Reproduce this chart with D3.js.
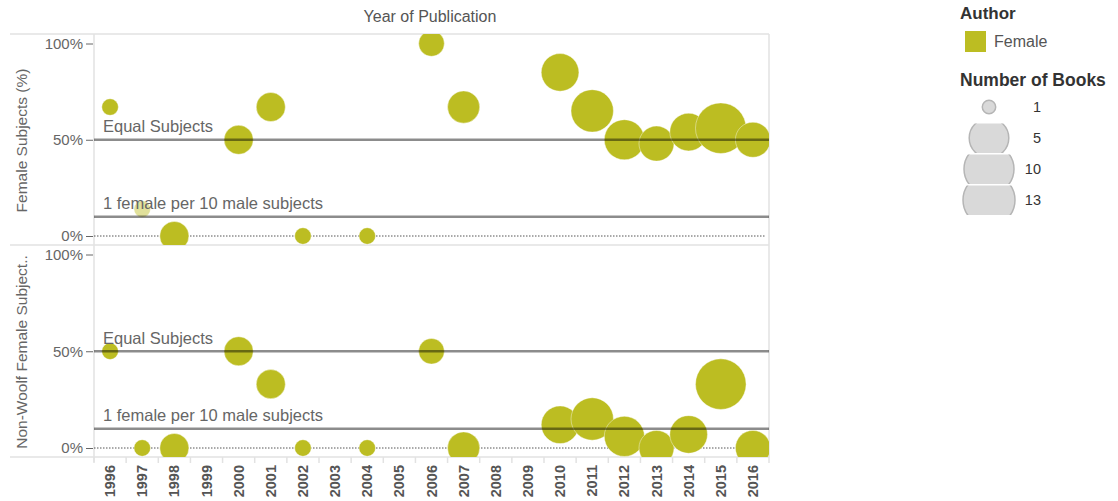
<!DOCTYPE html>
<html>
<head>
<meta charset="utf-8">
<script src="https://cdn.jsdelivr.net/npm/d3@7"></script>
<style>
  body { margin: 0; background: #fff; }
  text { font-family: "Liberation Sans", Arial, sans-serif; }
</style>
</head>
<body>
<svg id="chart" width="1118" height="501"></svg>
<script>
const width = 1118, height = 501;

// data
const years = [1996, 1997, 1998, 1999, 2000, 2001, 2002, 2003, 2004, 2005, 2006,
               2007, 2008, 2009, 2010, 2011, 2012, 2013, 2014, 2015, 2016];
const pubYears = [1996, 1997, 1998, 2000, 2001, 2002, 2004, 2006, 2007, 2010, 2011, 2012, 2013, 2014, 2015, 2016];
const femalePct = [67, 14, 0, 50, 67, 0, 0, 100, 67, 85, 65, 50, 48, 54, 56, 50];
const nonWoolfPct = [50, 0, 0, 50, 33, 0, 0, 50, 0, 12, 15, 6, 0, 7, 33, 0];
const books = [1, 1, 4, 4, 4, 1, 1, 3, 5, 7, 9, 8, 6, 7, 13, 6];
// the 1997 point sits under the label box, looks faded
const faded = [false, true, false, false, false, false, false, false, false, false, false, false, false, false, false, false];

const refValues = [50, 10];
const refLabels = ["Equal Subjects", "1 female per 10 male subjects"];
const yTicks = [0, 50, 100];
const panelTitles = ["Female Subjects (%)", "Non-Woolf Female Subject.."];
const legendBooks = [1, 5, 10, 13];
const legendRadius = [6.7, 19.8, 25, 26];

const olive = "#bcbd22";
const grid = "#e2e2e2";

const svg = d3.select("#chart");

const left = 94, right = 769;
const panels = [
  {top: 34, bottom: 245, values: femalePct, title: panelTitles[0]},
  {top: 245, bottom: 457, values: nonWoolfPct, title: panelTitles[1]}
];

const x = d3.scaleBand().domain(years).range([left, right]);

// circle area grows linearly with number of books
const area = d3.scaleLinear().domain([1, 13]).range([8.3 * 8.3, 25.3 * 25.3]);
const rOf = n => Math.sqrt(area(n));

const points = pubYears.map((yr, i) => ({
  year: yr, books: books[i], faded: faded[i],
  v: [femalePct[i], nonWoolfPct[i]]
}));

// title
svg.append("text")
  .attr("x", 430).attr("y", 22)
  .attr("text-anchor", "middle")
  .attr("font-size", 16)
  .attr("fill", "#555")
  .text("Year of Publication");

// frame lines
const frame = svg.append("g").attr("stroke", grid).attr("stroke-width", 1.5);
[34, 245, 457].forEach(yy => {
  frame.append("line").attr("x1", 10).attr("x2", right).attr("y1", yy).attr("y2", yy);
});
frame.append("line").attr("x1", right).attr("x2", right).attr("y1", 34).attr("y2", 457);
frame.append("line").attr("x1", left).attr("x2", left).attr("y1", 34).attr("y2", 462);

// x tick marks at band edges
svg.append("g").selectAll("line")
  .data(years.concat(["end"]))
  .join("line")
    .attr("x1", d => d === "end" ? right : x(d))
    .attr("x2", d => d === "end" ? right : x(d))
    .attr("y1", 457).attr("y2", 463)
    .attr("stroke", grid).attr("stroke-width", 1.5);

svg.append("g").selectAll("text")
  .data(years)
  .join("text")
    .attr("transform", d => `translate(${x(d) + x.bandwidth() / 2 + 5},465) rotate(-90)`)
    .attr("text-anchor", "end")
    .attr("font-size", 14.5)
    .attr("font-weight", "bold")
    .attr("fill", "#555")
    .text(d => d);

panels.forEach((p, pi) => {
  const y = d3.scaleLinear().domain([0, 100]).range([p.bottom - 9, p.top + 9.5]);
  const g = svg.append("g");

  const clipId = "clip" + pi;
  svg.append("clipPath").attr("id", clipId)
    .append("rect")
      .attr("x", left).attr("y", p.top)
      .attr("width", right - left).attr("height", p.bottom - p.top);

  // y axis
  const ax = g.append("g")
    .attr("transform", `translate(${left - 1},0)`)
    .call(d3.axisLeft(y).tickValues(yTicks).tickFormat(d => d + "%").tickSize(7).tickPadding(3));
  ax.select(".domain").remove();
  ax.selectAll("line").attr("stroke", "#666");
  ax.selectAll("text")
    .attr("font-family", "Liberation Sans, Arial, sans-serif")
    .attr("font-size", 15)
    .attr("fill", "#666");

  // axis title
  g.append("text")
    .attr("transform", `translate(27,${(p.top + p.bottom) / 2 + 1}) rotate(-90)`)
    .attr("text-anchor", "middle")
    .attr("font-size", 15.5)
    .attr("fill", "#666")
    .text(p.title);

  // zero line (dotted)
  g.append("line")
    .attr("x1", left).attr("x2", right - 4)
    .attr("y1", y(0)).attr("y2", y(0))
    .attr("stroke", "#555").attr("stroke-width", 1)
    .attr("stroke-dasharray", "1.5,1.5");

  // bubbles
  g.append("g")
    .attr("clip-path", `url(#${clipId})`)
    .selectAll("circle")
    .data(points)
    .join("circle")
      .attr("cx", d => x(d.year) + x.bandwidth() / 2)
      .attr("cy", d => y(d.v[pi]))
      .attr("r", d => rOf(d.books))
      .attr("fill", olive)
      .attr("fill-opacity", d => (d.faded && pi === 0) ? 0.45 : 1)
      .attr("stroke", "#fff")
      .attr("stroke-opacity", 0.5)
      .attr("stroke-width", 0.8);

  // reference lines
  g.append("g").selectAll("line")
    .data(refValues)
    .join("line")
      .attr("x1", left).attr("x2", right)
      .attr("y1", d => y(d)).attr("y2", d => y(d))
      .attr("stroke", "#000")
      .attr("stroke-opacity", 0.45)
      .attr("stroke-width", 2.5);

  g.append("g").selectAll("text")
    .data(refValues)
    .join("text")
      .attr("x", 103)
      .attr("y", d => y(d) - 7.5)
      .attr("font-size", 16.5)
      .attr("fill", "#666")
      .text((d, i) => refLabels[i]);
});

// legend
const lg = svg.append("g");
lg.append("text")
  .attr("x", 960).attr("y", 19)
  .attr("font-size", 17).attr("font-weight", "bold")
  .attr("fill", "#333")
  .text("Author");
lg.append("rect")
  .attr("x", 965).attr("y", 31)
  .attr("width", 21).attr("height", 21)
  .attr("fill", olive);
lg.append("text")
  .attr("x", 994).attr("y", 47)
  .attr("font-size", 16).attr("fill", "#555")
  .text("Female");
lg.append("text")
  .attr("x", 960).attr("y", 86)
  .attr("font-size", 17.5).attr("font-weight", "bold")
  .attr("fill", "#333")
  .text("Number of Books");

const rowY = d3.scalePoint().domain(legendBooks).range([107, 200]);
const legR = d3.scaleLinear().domain(legendBooks).range(legendRadius);

legendBooks.forEach((n, i) => {
  const cy = rowY(n);
  const cid = "lclip" + i;
  svg.append("clipPath").attr("id", cid)
    .append("rect")
      .attr("x", 950).attr("y", cy - 14.5)
      .attr("width", 80).attr("height", 29.5);
  lg.append("circle")
    .attr("clip-path", `url(#${cid})`)
    .attr("cx", 989).attr("cy", cy)
    .attr("r", legR(n))
    .attr("fill", "#d9d9d9")
    .attr("stroke", "#b5b5b5")
    .attr("stroke-width", 1.5);
  lg.append("text")
    .attr("x", 1041).attr("y", cy + 5)
    .attr("text-anchor", "end")
    .attr("font-size", 14.5).attr("fill", "#333")
    .text(n);
});
</script>
</body>
</html>
